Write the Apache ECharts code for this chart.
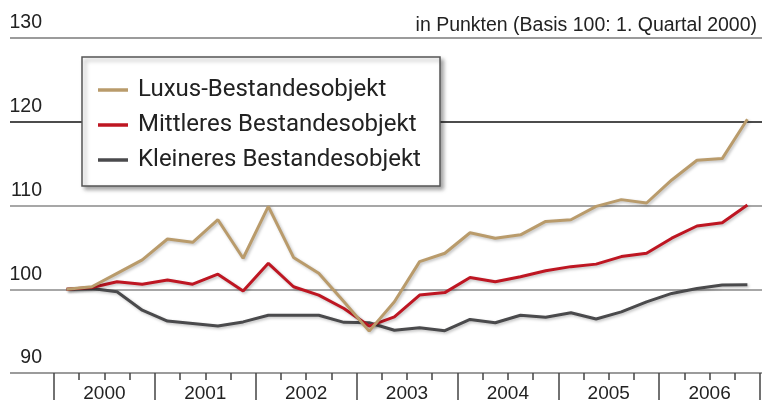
<!DOCTYPE html>
<html><head><meta charset="utf-8">
<script src="https://cdn.jsdelivr.net/npm/echarts@6/dist/echarts.min.js"></script>
<style>html,body{margin:0;padding:0;background:#fff}#c{width:762px;height:403px}</style>
</head><body><div id="c"></div>
<script>
const quarters = [
 '2000 Q1','2000 Q2','2000 Q3','2000 Q4','2001 Q1','2001 Q2','2001 Q3','2001 Q4',
 '2002 Q1','2002 Q2','2002 Q3','2002 Q4','2003 Q1','2003 Q2','2003 Q3','2003 Q4',
 '2004 Q1','2004 Q2','2004 Q3','2004 Q4','2005 Q1','2005 Q2','2005 Q3','2005 Q4',
 '2006 Q1','2006 Q2','2006 Q3','2006 Q4'];
const years = ['2000','2001','2002','2003','2004','2005','2006'];
const yTicks = [90, 100, 110, 120, 130];
const luxus = [100, 100.3, 101.9, 103.5, 106.0, 105.6, 108.3, 103.7,
 109.9, 103.8, 101.9, 98.5, 95.0, 98.5, 103.3, 104.3,
 106.75, 106.1, 106.5, 108.1, 108.3, 109.9, 110.7, 110.3,
 113.05, 115.4, 115.6, 120.3];
const mittleres = [100, 100.2, 100.9, 100.6, 101.1, 100.6, 101.8, 99.8,
 103.1, 100.3, 99.3, 97.7, 95.6, 96.7, 99.3, 99.6,
 101.4, 100.9, 101.5, 102.2, 102.7, 103.0, 103.9, 104.3,
 106.1, 107.55, 107.95, 110.05];
const kleineres = [100, 100.1, 99.7, 97.5, 96.2, 95.9, 95.6, 96.1,
 96.9, 96.9, 96.9, 96.05, 96.0, 95.1, 95.4, 95.05,
 96.4, 96.0, 96.9, 96.65, 97.2, 96.45, 97.3, 98.5,
 99.5, 100.1, 100.5, 100.55];
const seriesNames = ['Luxus-Bestandesobjekt', 'Mittleres Bestandesobjekt', 'Kleineres Bestandesobjekt'];
const unitTitle = 'in Punkten (Basis 100: 1. Quartal 2000)';

const colors = ['#b99b6b', '#be1622', '#4a4a4c'];
const numFont = "'Liberation Sans', Arial, sans-serif";
const legFont = "Roboto, 'Liberation Sans', sans-serif";
const chart = echarts.init(document.getElementById('c'), null, {renderer: 'canvas'});
const mkLine = (name, data, i) => ({
  name, type: 'line', data, xAxisIndex: 1, yAxisIndex: 1,
  showSymbol: false, symbol: 'none', z: 5 - i,
  lineStyle: {color: colors[i], width: 3, shadowColor: 'rgba(0,0,0,0.25)', shadowBlur: 3, shadowOffsetX: 1.5, shadowOffsetY: 1.5},
  itemStyle: {color: colors[i]}
});
chart.setOption({
  animation: false,
  title: {text: unitTitle, right: 0, top: 11,
    textStyle: {fontFamily: numFont, fontSize: 19.5, fontWeight: 'normal', color: '#222'}},
  grid: [
    {left: 10, right: 0, top: 38, bottom: 30},
    {left: 54, right: 2, top: 38, bottom: 30}
  ],
  xAxis: [
    {gridIndex: 0, type: 'value', min: 0, max: 1, show: false},
    {gridIndex: 1, type: 'category', data: quarters, boundaryGap: true, position: 'bottom', show: false},
    {gridIndex: 1, type: 'value', min: 0, max: 28, interval: 1, position: 'bottom',
      axisLine: {show: false, onZero: false}, splitLine: {show: false}, axisLabel: {show: false},
      axisTick: {show: true, length: 7, lineStyle: {color: '#444', width: 1.5}}},
    {gridIndex: 1, type: 'value', min: 0, max: 28, interval: 4, position: 'bottom',
      axisLine: {show: false, onZero: false}, splitLine: {show: false}, axisLabel: {show: false},
      axisTick: {show: true, length: 27, lineStyle: {color: '#444', width: 1.5}}},
    {gridIndex: 1, type: 'category', data: years, boundaryGap: true, position: 'bottom',
      axisLine: {show: false, onZero: false}, axisTick: {show: false}, splitLine: {show: false},
      axisLabel: {interval: 0, margin: 11, fontFamily: numFont, fontSize: 19, color: '#222'}}
  ],
  yAxis: [
    {gridIndex: 0, type: 'value', min: yTicks[0], max: yTicks[yTicks.length - 1], interval: 10,
      axisLine: {show: false}, axisTick: {show: false},
      splitLine: {show: true, lineStyle: {color: ['#7a7a7a', '#8a8a8a', '#8a8a8a', '#111', '#7a7a7a'], width: 1.5}},
      axisLabel: {inside: true, align: 'right', margin: 32, verticalAlign: 'bottom', padding: [0, 0, 5, 0],
        fontFamily: numFont, fontSize: 19.5, color: '#222', showMinLabel: true, showMaxLabel: true}},
    {gridIndex: 1, type: 'value', min: yTicks[0], max: yTicks[yTicks.length - 1], show: false}
  ],
  graphic: [
    {type: 'rect', z: 1, shape: {x: 82, y: 57, width: 358, height: 129},
      style: {fill: '#fff', stroke: '#555', lineWidth: 1.5, shadowColor: 'rgba(0,0,0,0.35)', shadowBlur: 4, shadowOffsetX: 3, shadowOffsetY: 3}}
  ],
  legend: {
    left: 93, top: 70, orient: 'vertical', z: 10,
    icon: 'rect', itemWidth: 30, itemHeight: 3.5, itemGap: 5,
    textStyle: {fontFamily: legFont, fontSize: 24, lineHeight: 30, color: '#222', padding: [0, 0, 0, 5]},
    data: seriesNames
  },
  series: [
    mkLine(seriesNames[0], luxus, 0),
    mkLine(seriesNames[1], mittleres, 1),
    mkLine(seriesNames[2], kleineres, 2)
  ]
});
</script></body></html>
